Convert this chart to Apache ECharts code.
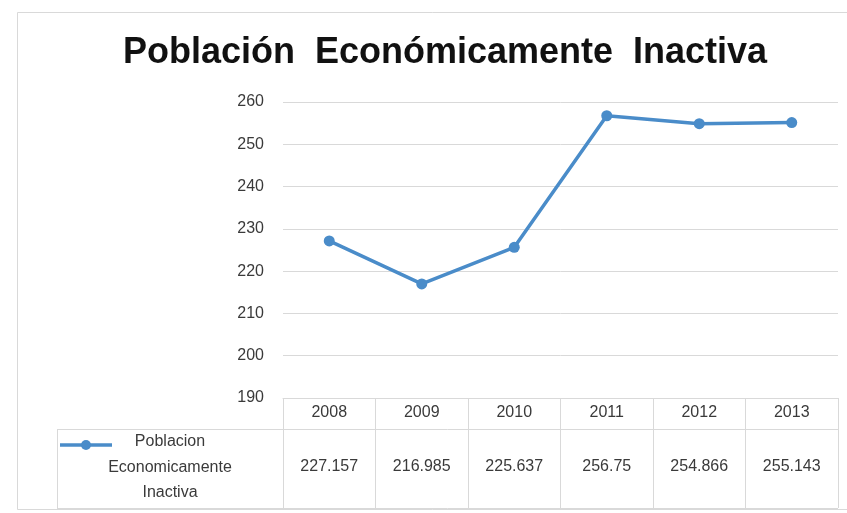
<!DOCTYPE html>
<html>
<head>
<meta charset="utf-8">
<script src="https://cdn.jsdelivr.net/npm/echarts@6/dist/echarts.min.js"></script>
<style>
  html, body { margin: 0; padding: 0; background: #ffffff; }
  #chart { width: 847px; height: 513px; }
</style>
</head>
<body>
<div id="chart"></div>
<script>
// Data
const years = ['2008', '2009', '2010', '2011', '2012', '2013'];
const values = [227.157, 216.985, 225.637, 256.75, 254.866, 255.143];
const valueLabels = ['227.157', '216.985', '225.637', '256.75', '254.866', '255.143'];
const seriesName = 'Poblacion Economicamente Inactiva';
const legendLines = ['Poblacion', 'Economicamente', 'Inactiva'];
const titleText = 'Población  Económicamente  Inactiva';
const yMin = 190, yMax = 260, yStep = 10;

const FONT = 'Liberation Sans, Arial, sans-serif';
const LINE_COLOR = '#4a8cc9';
const GRID_COLOR = '#d9d9d9';
const TEXT_COLOR = '#3a3a3a';

const chart = echarts.init(document.getElementById('chart'), null, { renderer: 'canvas' });

const option = {
  backgroundColor: '#ffffff',
  animation: false,
  title: {
    text: titleText,
    left: 440,
    top: 30,
    textAlign: 'center',
    textStyle: { fontFamily: FONT, fontSize: 36, fontWeight: 'bold', color: '#111111' }
  },
  grid: { left: 283, right: 9, top: 102, bottom: 115, containLabel: false },
  xAxis: [
    {
      type: 'category',
      data: years,
      position: 'bottom',
      boundaryGap: true,
      axisLine: { show: true, lineStyle: { color: GRID_COLOR, width: 1 } },
      // ticks at category boundaries form the table's column dividers
      axisTick: { show: true, length: 110, lineStyle: { color: GRID_COLOR, width: 1 } },
      axisLabel: { margin: 7, fontFamily: FONT, fontSize: 16, color: TEXT_COLOR }
    },
    {
      type: 'category',
      data: valueLabels,
      position: 'bottom',
      boundaryGap: true,
      axisLine: { show: false },
      axisTick: { show: false },
      axisLabel: { margin: 61, fontFamily: FONT, fontSize: 16, color: TEXT_COLOR }
    }
  ],
  yAxis: {
    type: 'value',
    min: yMin,
    max: yMax,
    interval: yStep,
    axisLine: { show: false },
    axisTick: { show: false },
    splitLine: { show: true, lineStyle: { color: GRID_COLOR, width: 1 } },
    axisLabel: { margin: 19, fontFamily: FONT, fontSize: 16, color: TEXT_COLOR }
  },
  series: [{
    name: seriesName,
    type: 'line',
    xAxisIndex: 0,
    data: values,
    symbol: 'circle',
    symbolSize: 11,
    lineStyle: { color: LINE_COLOR, width: 3.5 },
    itemStyle: { color: LINE_COLOR },
    z: 5
  }],
  graphic: [
    // outer chart frame
    { type: 'rect', shape: { x: 17.5, y: 12.5, width: 840, height: 497 },
      style: { fill: 'none', stroke: '#d9d9d9', lineWidth: 1 }, silent: true },
    // data table rules
    { type: 'line', shape: { x1: 57, y1: 429.5, x2: 838, y2: 429.5 },
      style: { stroke: GRID_COLOR, lineWidth: 1 } },
    { type: 'line', shape: { x1: 57, y1: 508.5, x2: 838, y2: 508.5 },
      style: { stroke: GRID_COLOR, lineWidth: 1 } },
    { type: 'line', shape: { x1: 57.5, y1: 429, x2: 57.5, y2: 508 },
      style: { stroke: GRID_COLOR, lineWidth: 1 } },
    // legend key
    { type: 'line', shape: { x1: 60, y1: 445, x2: 112, y2: 445 },
      style: { stroke: LINE_COLOR, lineWidth: 3.5 } },
    { type: 'circle', shape: { cx: 86, cy: 445, r: 5 },
      style: { fill: LINE_COLOR } },
    { type: 'text', x: 170, y: 467.5,
      style: { text: legendLines.join('\n'), align: 'center', verticalAlign: 'middle',
        fontFamily: FONT, fontSize: 16, lineHeight: 25.5, fill: TEXT_COLOR } }
  ]
};

chart.setOption(option);
</script>
</body>
</html>
